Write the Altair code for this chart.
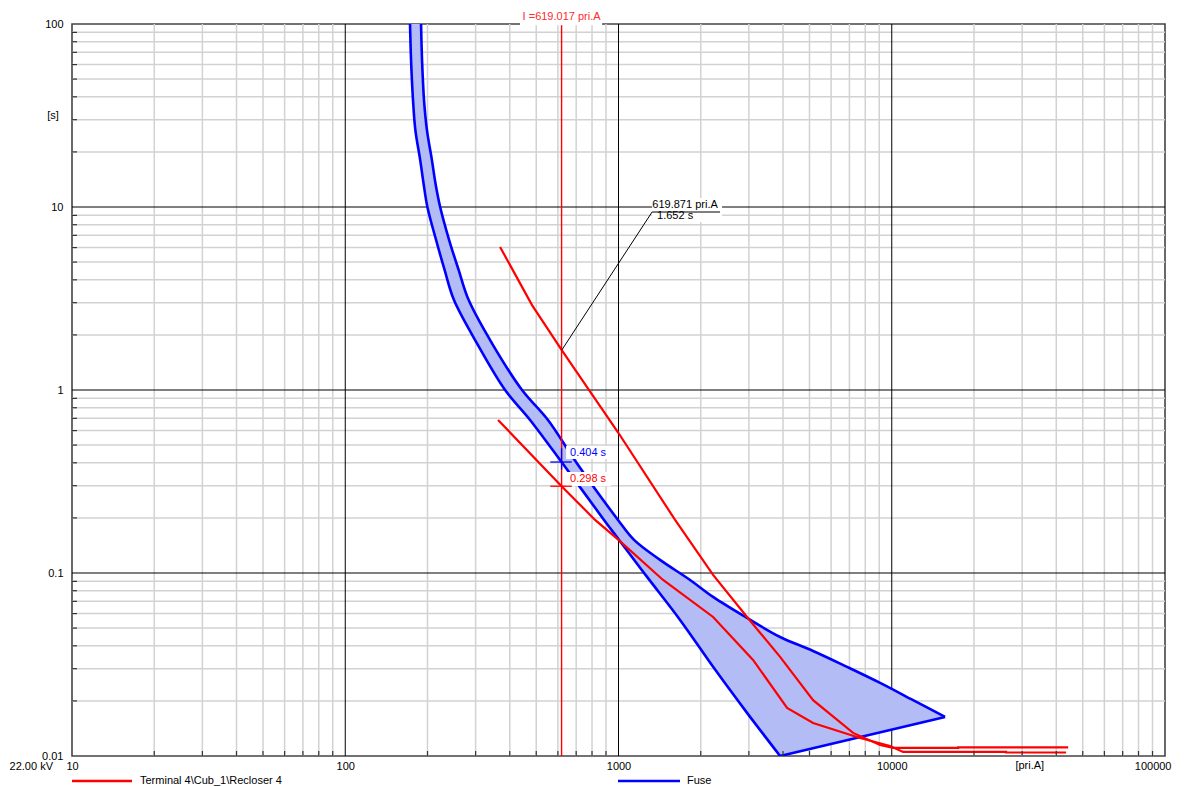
import altair as alt
import pandas as pd

# ---------------- data ----------------
# Fuse, minimum melting curve (current in pri.A, time in s)
fuse_mm_I = [172.6, 174.1, 177.0, 180.5, 188.0, 193.5, 199.8, 215.0, 231.0, 250.0, 306.0,
             384.6, 474.6, 619.0, 885.0, 1005.0, 1272.0, 1680.0, 2219.0, 2954.0, 3903.0]
fuse_mm_t = [100, 63.6, 38.4, 26.4, 18.1, 13.4, 10.0, 6.60, 4.53, 3.10, 1.76,
             1.0, 0.686, 0.404, 0.195, 0.1516, 0.0952, 0.0554, 0.0307, 0.0172, 0.01]
# Fuse, total clearing curve
fuse_tc_I = [189.4, 191.0, 194.2, 199.0, 207.5, 214.0, 222.5, 240.0, 260.0, 283.0, 347.4,
             443.6, 552.0, 699.0, 996.0, 1140.0, 1419.0, 1828.0, 2219.0, 2954.0, 3903.0,
             5154.0, 6864.0, 9065.0, 11970.0, 15670.0]
fuse_tc_t = [100, 63.6, 38.4, 26.4, 18.1, 13.4, 10.0, 6.60, 4.53, 3.10, 1.76,
             1.0, 0.686, 0.404, 0.195, 0.1516, 0.1179, 0.0916, 0.0740, 0.0568, 0.0447,
             0.0375, 0.0307, 0.0251, 0.0202, 0.01635]
# Recloser, delayed curve
rec_slow_I = [368.6, 482.6, 619.871, 1000, 1611, 2219, 2954, 3903, 5154, 7220,
              9065, 10110, 17490, 17490, 44200]
rec_slow_t = [6.05, 2.91, 1.652, 0.582, 0.195, 0.0976, 0.0575, 0.0348, 0.0202, 0.01337,
              0.01149, 0.01107, 0.01107, 0.01115, 0.01115]
# Recloser, fast curve
rec_fast_I = [362.4, 619.017, 821, 1000, 1456, 2219, 3108, 4140, 5154, 7658,
              9860, 11000, 26200, 26200, 43450]
rec_fast_t = [0.686, 0.298, 0.195, 0.1516, 0.0916, 0.0575, 0.0335, 0.01831, 0.01516, 0.01255,
              0.01135, 0.01052, 0.01052, 0.01045, 0.01045]

cursor_I = 619.017
cursor_label = "I =619.017 pri.A"
fuse_at_cursor = 0.404
rec_at_cursor = 0.298
point_I = 619.871
point_t = 1.652
point_labels = ["619.871 pri.A", "1.652 s"]

x_major = [100, 1000, 10000]
y_major = [0.1, 1, 10]
x_decades = [10, 100, 1000, 10000]
y_decades = [0.01, 0.1, 1, 10]
multipliers = [2, 3, 4, 5, 6, 7, 8, 9]
x_labels = [10, 100, 1000, 10000, 100000]
y_labels = [0.01, 0.1, 1, 10, 100]
legend_names = ["Terminal 4\\Cub_1\\Recloser 4", "Fuse"]

# ---------------- helpers ----------------
FONT = "Liberation Sans"
W, H = 1093, 732
RED = "#ff0000"
BLUE = "#0000ff"

xs = alt.Scale(type="log", domain=[10, 100000], nice=False)
ys = alt.Scale(type="log", domain=[0.01, 100], nice=False)

x_axis = alt.Axis(values=x_labels, format="d", grid=False, ticks=False, tickSize=0,
                  domain=False, labelFont=FONT, labelFontSize=11, labelColor="black",
                  labelPadding=4, labelFlush=True, labelFlushOffset=6, labelOverlap=False,
                  title=None)
y_axis = alt.Axis(values=y_labels, format="~g", grid=False, ticks=False, tickSize=0,
                  domain=False, labelFont=FONT, labelFontSize=11, labelColor="black",
                  labelPadding=9, labelFlush=False, labelOverlap=False, title=None)


def X(f):
    return alt.X(f"{f}:Q", scale=xs, axis=x_axis)


def Y(f):
    return alt.Y(f"{f}:Q", scale=ys, axis=y_axis)


def X2(f):
    return alt.X2(f"{f}:Q")


def Y2(f):
    return alt.Y2(f"{f}:Q")


x_minor = [d * m for d in x_decades for m in multipliers]
y_minor = [round(d * m, 4) for d in y_decades for m in multipliers]

# ---------------- grid ----------------
df_xmin = pd.DataFrame({"v": x_minor})
df_ymin = pd.DataFrame({"v": y_minor})
df_xmaj = pd.DataFrame({"v": x_major})
df_ymaj = pd.DataFrame({"v": y_major})

grid_xmin = alt.Chart(df_xmin).mark_rule(color="#d2d2d2", strokeWidth=1.5).encode(x=X("v"))
grid_ymin = alt.Chart(df_ymin).mark_rule(color="#d2d2d2", strokeWidth=1.5).encode(y=Y("v"))
grid_xmaj = alt.Chart(df_xmaj).mark_rule(color="#000000", strokeWidth=1).encode(x=X("v"))
grid_ymaj = alt.Chart(df_ymaj).mark_rule(color="#000000", strokeWidth=1).encode(y=Y("v"))

ticks_x = alt.Chart(df_xmin).mark_rule(color="#333333", strokeWidth=1.2).encode(
    x=X("v"), y=alt.value(H), y2=alt.value(H - 5))
ticks_y = alt.Chart(df_ymin).mark_rule(color="#333333", strokeWidth=1.2).encode(
    y=Y("v"), x=alt.value(0), x2=alt.value(5))

# ---------------- fuse ----------------
poly_I = fuse_mm_I + fuse_tc_I[::-1]
poly_t = fuse_mm_t + fuse_tc_t[::-1]
df_fuse = pd.DataFrame({"I": poly_I, "t": poly_t, "idx": list(range(len(poly_I)))})

fuse_fill = alt.Chart(df_fuse).mark_line(fill="#b4bcf6", stroke="#b4bcf6", strokeWidth=0.5,
                                         clip=True).encode(
    x=X("I"), y=Y("t"), order=alt.Order("idx:Q"))

# outline: two curves (smooth) plus the straight closing edge
n_mm = len(fuse_mm_I)
n_tc = len(fuse_tc_I)
df_outline = pd.DataFrame({
    "I": fuse_mm_I + fuse_tc_I + [fuse_mm_I[-1], fuse_tc_I[-1]],
    "t": fuse_mm_t + fuse_tc_t + [fuse_mm_t[-1], fuse_tc_t[-1]],
    "seg": ["mm"] * n_mm + ["tc"] * n_tc + ["end", "end"],
    "idx": list(range(n_mm)) + list(range(n_tc)) + [0, 1],
})
fuse_curves = alt.Chart(df_outline).transform_filter("datum.seg != 'end'").mark_line(
    color=BLUE, strokeWidth=2.6, clip=True, interpolate="catmull-rom").encode(
    x=X("I"), y=Y("t"), detail="seg:N", order=alt.Order("idx:Q"))
fuse_end = alt.Chart(df_outline).transform_filter("datum.seg == 'end'").mark_line(
    color=BLUE, strokeWidth=2.6, clip=True).encode(
    x=X("I"), y=Y("t"), order=alt.Order("idx:Q"))

# ---------------- recloser ----------------
df_slow = pd.DataFrame({"I": rec_slow_I, "t": rec_slow_t, "idx": list(range(len(rec_slow_I)))})
df_fast = pd.DataFrame({"I": rec_fast_I, "t": rec_fast_t, "idx": list(range(len(rec_fast_I)))})
slow_line = alt.Chart(df_slow).mark_line(color=RED, strokeWidth=2.2).encode(
    x=X("I"), y=Y("t"), order=alt.Order("idx:Q"))
fast_line = alt.Chart(df_fast).mark_line(color=RED, strokeWidth=2.2).encode(
    x=X("I"), y=Y("t"), order=alt.Order("idx:Q"))

# ---------------- cursor ----------------
df_cursor = pd.DataFrame({"I": [cursor_I], "label": [cursor_label]})
cursor_line = alt.Chart(df_cursor).mark_rule(color=RED, strokeWidth=1.4).encode(x=X("I"))
df_cursor_box = pd.DataFrame({"a": [436.0], "b": [871.0]})
cursor_box = alt.Chart(df_cursor_box).mark_rect(color="white").encode(
    x=X("a"), x2=X2("b"), y=alt.value(-14), y2=alt.value(1.2))
cursor_text = alt.Chart(df_cursor).mark_text(font=FONT, fontSize=11, color="#ff2a2a",
                                              align="center", baseline="middle").encode(
    x=X("I"), y=alt.value(-7.5), text="label:N")

# label boxes for the cursor read-outs
df_boxes = pd.DataFrame({"a": [643.0, 643.0], "b": [939.0, 939.0],
                         "t1": [0.4945, 0.3566], "t2": [0.420, 0.2989]})
read_boxes = alt.Chart(df_boxes).mark_rect(color="white").encode(
    x=X("a"), x2=X2("b"), y=Y("t1"), y2=Y2("t2"))

df_cross = pd.DataFrame({
    "I1": [cursor_I / 1.1, cursor_I / 1.1],
    "I2": [cursor_I * 1.09, cursor_I * 1.09],
    "t": [fuse_at_cursor, rec_at_cursor],
    "c": ["fuse", "rec"],
})
cross_h = alt.Chart(df_cross).mark_rule(strokeWidth=1.3).encode(
    x=X("I1"), x2=X2("I2"), y=Y("t"),
    color=alt.Color("c:N", scale=alt.Scale(domain=["fuse", "rec"], range=[BLUE, RED]), legend=None))
df_vcross = pd.DataFrame({"I": [cursor_I], "t1": [fuse_at_cursor * 1.19], "t2": [fuse_at_cursor / 1.1]})
cross_v = alt.Chart(df_vcross).mark_rule(color=BLUE, strokeWidth=1.3).encode(
    x=X("I"), y=Y("t1"), y2=Y2("t2"))

df_read = pd.DataFrame({"I": [664.6, 664.6], "t": [0.453, 0.3266],
                        "label": [f"{fuse_at_cursor:.3f} s", f"{rec_at_cursor:.3f} s"],
                        "c": ["fuse", "rec"]})
read_text = alt.Chart(df_read).mark_text(font=FONT, fontSize=11, align="left",
                                          baseline="middle").encode(
    x=X("I"), y=Y("t"), text="label:N",
    color=alt.Color("c:N", scale=alt.Scale(domain=["fuse", "rec"], range=["#2a3cff", "#ff2a2a"]),
                    legend=None))

# ---------------- point annotation ----------------
df_pbox = pd.DataFrame({"a": [1327.0], "b": [2393.0], "t1": [11.2], "t2": [8.28]})
point_box = alt.Chart(df_pbox).mark_rect(color="white").encode(
    x=X("a"), x2=X2("b"), y=Y("t1"), y2=Y2("t2"))
df_leader = pd.DataFrame({"I1": [point_I, 1327.0], "t1": [point_t, 9.39],
                          "I2": [1327.0, 2353.0], "t2": [9.39, 9.39]})
leader = alt.Chart(df_leader).mark_rule(color="#000000", strokeWidth=1).encode(
    x=X("I1"), y=Y("t1"), x2=X2("I2"), y2=Y2("t2"))
df_ptext = pd.DataFrame({"I": [1330.0, 1384.0], "t": [10.26, 8.93], "label": point_labels})
point_text = alt.Chart(df_ptext).mark_text(font=FONT, fontSize=11, color="black", align="left",
                                            baseline="middle").encode(
    x=X("I"), y=Y("t"), text="label:N")

# ---------------- axis titles / extra text ----------------
df_s = pd.DataFrame({"t": [31.6], "label": ["[s]"]})
s_title = alt.Chart(df_s).mark_text(font=FONT, fontSize=11, color="black", align="center",
                                     baseline="middle").encode(
    x=alt.value(-19), y=Y("t"), text="label:N")
df_a = pd.DataFrame({"I": [32000.0], "label": ["[pri.A]"]})
a_title = alt.Chart(df_a).mark_text(font=FONT, fontSize=11, color="black", align="center",
                                     baseline="middle").encode(
    x=X("I"), y=alt.value(H + 10), text="label:N")
df_kv = pd.DataFrame({"label": ["22.00 kV"]})
kv_text = alt.Chart(df_kv).mark_text(font=FONT, fontSize=11, color="black", align="right",
                                      baseline="middle").encode(
    x=alt.value(-19), y=alt.value(H + 11), text="label:N")

# ---------------- legend ----------------
df_leg1 = pd.DataFrame({"label": [legend_names[0]]})
df_leg2 = pd.DataFrame({"label": [legend_names[1]]})
leg1_line = alt.Chart(df_leg1).mark_rule(color=RED, strokeWidth=2.4).encode(
    x=alt.value(0), x2=alt.value(60), y=alt.value(H + 25))
leg1_text = alt.Chart(df_leg1).mark_text(font=FONT, fontSize=11, color="black", align="left",
                                          baseline="middle").encode(
    x=alt.value(68), y=alt.value(H + 25), text="label:N")
leg2_line = alt.Chart(df_leg2).mark_rule(color=BLUE, strokeWidth=2.4).encode(
    x=alt.value(546), x2=alt.value(608), y=alt.value(H + 25))
leg2_text = alt.Chart(df_leg2).mark_text(font=FONT, fontSize=11, color="black", align="left",
                                          baseline="middle").encode(
    x=alt.value(615), y=alt.value(H + 25), text="label:N")

chart = alt.layer(
    grid_xmin, grid_ymin, grid_xmaj, grid_ymaj,
    fuse_fill, fuse_curves, fuse_end, slow_line, fast_line,
    ticks_x, ticks_y,
    cursor_line, read_boxes, cross_h, cross_v, read_text,
    point_box, leader, point_text,
    cursor_box, cursor_text,
    s_title, a_title, kv_text,
    leg1_line, leg1_text, leg2_line, leg2_text,
).properties(
    width=W, height=H,
    autosize=alt.AutoSizeParams(type="none"),
    padding={"left": 64, "top": 16, "right": 11, "bottom": 31},
    background="white",
).configure_view(
    stroke="#444444", strokeWidth=1.6
)

chart.save("out.html", embed_options={"renderer": "svg", "actions": False})
